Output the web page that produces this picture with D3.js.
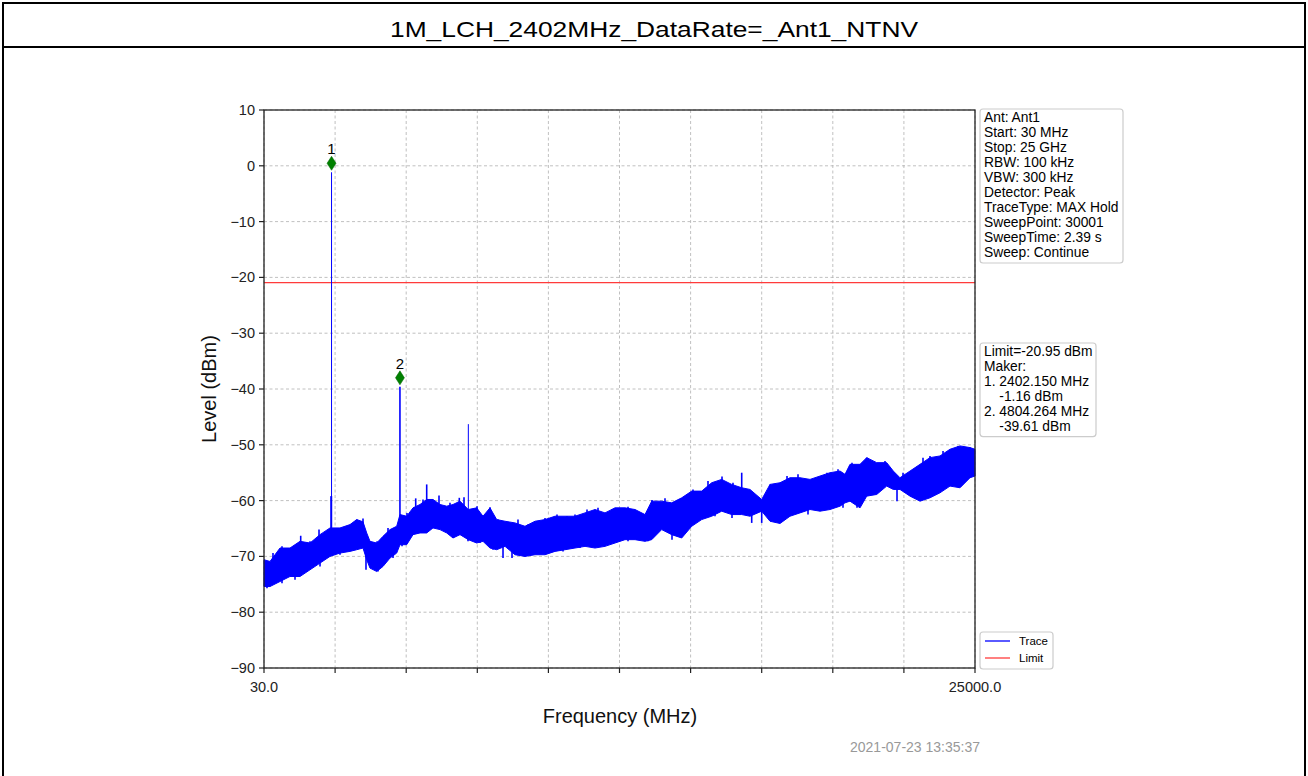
<!DOCTYPE html>
<html><head><meta charset="utf-8">
<script src="https://cdn.jsdelivr.net/npm/d3@7"></script>
<style>
body{margin:0;background:#fff;}
svg{display:block;font-family:"Liberation Sans",Arial,sans-serif;}
</style></head>
<body><svg id="c" width="1308" height="776"></svg>
<script>
const title = "1M_LCH_2402MHz_DataRate=_Ant1_NTNV";
const xDomain = [30, 25000];
const yTicks = [10, 0, -10, -20, -30, -40, -50, -60, -70, -80, -90];
const xTickLabels = ["30.0", "25000.0"];
const limitLevel = -20.95;
// noise band envelope: frequency (MHz), upper and lower level (dBm)
const bandFreq = [30,241,592,943,1294,1646,1997,2348,2699,3050,3286,3507,3637,3753,3988,4209,4455,4690,4806,5042,5263,5509,5744,5965,6211,6447,6668,6914,7205,7500,7721,7967,8202,8494,8845,9196,9548,9899,10250,10601,10952,11304,11655,12006,12357,12708,13060,13411,13646,13997,14348,14700,15051,15402,15753,16104,16455,16807,17098,17509,17801,18152,18503,18854,19206,19557,19908,20259,20435,20610,20962,21197,21548,21899,22131,22366,22718,23069,23420,23771,24122,24474,24825,25000];
const bandTop = [-70.6,-70.9,-68.5,-68.5,-67.3,-67.6,-66.1,-64.9,-64.9,-64.3,-63.4,-63.8,-65.8,-67.3,-67.6,-66.4,-65.2,-64.6,-62.5,-62.8,-61.3,-60.7,-59.8,-59.8,-60.7,-61.0,-60.7,-60.1,-61.6,-61.3,-62.8,-61.3,-63.4,-63.7,-64.0,-64.6,-63.7,-63.4,-62.8,-62.8,-62.8,-62.2,-61.6,-62.2,-61.3,-61.3,-61.6,-62.5,-60.1,-60.1,-60.4,-59.5,-58.3,-58.3,-56.8,-56.2,-57.1,-57.7,-58.0,-59.8,-57.1,-56.8,-55.9,-55.9,-56.2,-55.6,-55.0,-54.7,-55.3,-53.5,-53.5,-52.3,-53.2,-53.2,-54.7,-55.9,-54.7,-53.5,-52.3,-52.0,-50.8,-50.2,-50.5,-50.8];
const bandBottom = [-75.4,-75.4,-74.5,-73.6,-73.6,-72.4,-71.2,-70.0,-69.4,-69.1,-68.8,-68.5,-70.6,-72.1,-72.7,-71.8,-70.3,-69.4,-67.9,-67.9,-66.1,-65.8,-65.8,-64.9,-65.2,-65.8,-66.7,-66.1,-67.0,-67.6,-67.3,-68.5,-68.8,-68.2,-69.7,-70.0,-69.7,-69.7,-69.1,-68.8,-68.5,-68.2,-68.5,-68.2,-67.6,-67.0,-67.0,-67.3,-67.0,-65.2,-66.1,-66.7,-64.6,-63.4,-62.8,-61.9,-62.5,-62.5,-62.8,-61.9,-63.7,-64.1,-62.8,-62.2,-61.6,-61.9,-61.6,-61.0,-60.4,-60.1,-61.3,-59.2,-58.9,-57.4,-58.0,-58.0,-59.2,-60.1,-59.5,-58.6,-57.4,-57.7,-55.9,-55.6,-55.0,-54.4];
// small noise peaks above the band and dips below it
const peakFreq = [346,662,943,1319,1646,1962,2804,3121,3286,3507,4001,4385,5052,5358,5614,5744,6176,6562,6889,7054,7511,7967,8248,8599,8950,9302,9899,10320,10671,10952,11374,11760,12252,12814,13657,14113,14640,15096,15623,16115,16501,16807,17801,18398,18784,19135,19802,20189,20680,21197,21839,22472,23174,23420,23877,24404,24825];
const peakLevel = [-69.4,-68.2,-68.5,-66.3,-67.3,-65.2,-64.9,-64.0,-63.4,-63.2,-67.3,-64.9,-62.2,-59.6,-59.8,-57.1,-59.1,-60.4,-59.5,-59.4,-61.0,-61.2,-63.4,-64.0,-63.4,-64.3,-63.1,-62.5,-62.8,-62.5,-61.6,-61.3,-61.5,-61.1,-59.9,-59.6,-59.8,-58.0,-56.5,-55.7,-56.8,-55.0,-57.1,-55.6,-55.3,-56.2,-55.0,-54.4,-53.2,-52.3,-52.9,-55.0,-52.3,-52.0,-51.1,-50.2,-50.5];
const dipFreq = [135,662,1119,1997,2699,3612,4034,4561,4877,6668,7195,7616,8072,8424,8740,9196,10004,10531,11128,12006,12814,13516,14359,14921,15869,16466,17158,17509,18036,19135,20364,20856,21418,22261,23420,24579];
const dipLevel = [-75.7,-74.8,-74.2,-71.8,-69.7,-72.4,-72.7,-70.3,-68.2,-66.7,-67.3,-67.6,-68.8,-70.3,-70.3,-70.0,-69.4,-69.1,-68.5,-67.9,-67.3,-67.3,-67.0,-64.9,-62.8,-63.1,-64.0,-64.0,-62.2,-62.5,-61.3,-61.3,-58.3,-60.1,-58.0,-56.2];
// narrow emissions on the trace: frequency (MHz), peak level (dBm)
const spikeFreq = [2402.15, 4804.264, 7206, 2390];
const spikeLevel = [-1.16, -39.61, -46.3, -59.2];
const spikeWidth = [1, 1.6, 1, 2];
const markerIds = ["1", "2"];
const markerFreq = [2402.15, 4804.264];
const markerLevel = [-1.16, -39.61];
const infoLines1 = ["Ant: Ant1","Start: 30 MHz","Stop: 25 GHz","RBW: 100 kHz","VBW: 300 kHz","Detector: Peak","TraceType: MAX Hold","SweepPoint: 30001","SweepTime: 2.39 s","Sweep: Continue"];
const infoLines2 = ["Limit=-20.95 dBm","Maker:","1. 2402.150 MHz","    -1.16 dBm","2. 4804.264 MHz","    -39.61 dBm"];
const legendNames = ["Trace", "Limit"];
const legendColors = ["#0000ff", "#ff3b3b"];
const timestamp = "2021-07-23 13:35:37";

const svg = d3.select("#c");
// outer frame
svg.append("rect").attr("x",3).attr("y",3).attr("width",1302).attr("height",790)
  .attr("fill","none").attr("stroke","#000").attr("stroke-width",2);
svg.append("line").attr("x1",3).attr("x2",1305).attr("y1",47).attr("y2",47)
  .attr("stroke","#000").attr("stroke-width",2);
svg.append("text").attr("x",654).attr("y",37).attr("text-anchor","middle")
  .attr("font-size",22).attr("fill","#000")
  .attr("textLength",528).attr("lengthAdjust","spacingAndGlyphs").text(title);

const L=264, R=975, T=110, B=668;
const x = d3.scaleLinear().domain(xDomain).range([L,R]);
const y = d3.scaleLinear().domain([-90,10]).range([B,T]);
const xt = d3.range(11).map(i => xDomain[0] + (xDomain[1]-xDomain[0])*i/10);

const g = svg.append("g");
// grid
g.selectAll(".gy").data(yTicks).join("line").attr("x1",L).attr("x2",R)
  .attr("y1",d=>y(d)).attr("y2",d=>y(d)).attr("stroke","#b0b0b0").attr("stroke-width",0.8).attr("stroke-dasharray","3,2.5");
g.selectAll(".gx").data(xt).join("line").attr("x1",d=>x(d)).attr("x2",d=>x(d))
  .attr("y1",T).attr("y2",B).attr("stroke","#b0b0b0").attr("stroke-width",0.8).attr("stroke-dasharray","3,2.5");

// limit
g.append("line").attr("x1",L).attr("x2",R).attr("y1",y(limitLevel)).attr("y2",y(limitLevel))
  .attr("stroke","#ff3b3b").attr("stroke-width",1.2);

// trace band
const band = bandFreq.map((f,i)=>({f, t:bandTop[i], b:bandBottom[i]}));
g.append("path").datum(band)
  .attr("d", d3.area().x(d=>x(d.f)).y0(d=>y(d.b)).y1(d=>y(d.t)))
  .attr("fill","#0000ff").attr("stroke","#0000ff").attr("stroke-width",1);
const midAt = f => { const i = d3.bisectLeft(bandFreq, f); const k=Math.max(0,Math.min(bandFreq.length-1,i)); return (bandTop[k]+bandBottom[k])/2; };
const noise = peakFreq.map((f,i)=>({f, v:peakLevel[i]})).concat(dipFreq.map((f,i)=>({f, v:dipLevel[i]})));
g.selectAll(".nz").data(noise).join("line")
  .attr("x1",d=>x(d.f)).attr("x2",d=>x(d.f)).attr("y1",d=>y(midAt(d.f))).attr("y2",d=>y(d.v))
  .attr("stroke","#0000ff").attr("stroke-width",1.6);
// spikes
const spikes = spikeFreq.map((f,i)=>({f, v:spikeLevel[i], w:spikeWidth[i]}));
g.selectAll(".sp").data(spikes).join("line")
  .attr("x1",d=>x(d.f)).attr("x2",d=>x(d.f)).attr("y1",d=>y(midAt(d.f))).attr("y2",d=>y(d.v))
  .attr("stroke","#0000ff").attr("stroke-width",d=>d.w);

// markers
const mk = markerIds.map((id,i)=>({id, f:markerFreq[i], v:markerLevel[i]}));
const mg = g.selectAll(".mk").data(mk).join("g").attr("transform",d=>`translate(${x(d.f)},${y(d.v)-9})`);
mg.append("path").attr("d","M0,-7L4.5,0L0,7L-4.5,0Z").attr("fill","#008000").attr("stroke","#006400").attr("stroke-width",0.5);
mg.append("text").attr("y",-9).attr("text-anchor","middle").attr("font-size",15).attr("fill","#000").text(d=>d.id);

// axes frame
g.append("rect").attr("x",L).attr("y",T).attr("width",R-L).attr("height",B-T)
  .attr("fill","none").attr("stroke","#222").attr("stroke-width",1.3);
// y ticks
const ya = g.append("g");
ya.selectAll("line").data(yTicks).join("line").attr("x1",L-5).attr("x2",L)
  .attr("y1",d=>y(d)).attr("y2",d=>y(d)).attr("stroke","#222").attr("stroke-width",1.2);
ya.selectAll("text").data(yTicks).join("text").attr("x",L-9).attr("y",d=>y(d)+5)
  .attr("text-anchor","end").attr("font-size",14.5).attr("fill","#222")
  .text(d=>d<0?"\u2212"+Math.abs(d):String(d));
// x ticks
g.selectAll(".xtk").data(xt).join("line").attr("x1",d=>x(d)).attr("x2",d=>x(d))
  .attr("y1",B).attr("y2",B+5).attr("stroke","#222").attr("stroke-width",1.2);
g.selectAll(".xtl").data([xDomain[0], xDomain[1]]).join("text")
  .attr("x",d=>x(d)).attr("y",B+24).attr("text-anchor","middle").attr("font-size",14.5).attr("fill","#222")
  .text((d,i)=>xTickLabels[i]);

// axis labels
svg.append("text").attr("x",620).attr("y",723).attr("text-anchor","middle").attr("font-size",20).attr("fill","#111").text("Frequency (MHz)");
svg.append("text").attr("transform","translate(216,389) rotate(-90)").attr("text-anchor","middle").attr("font-size",20).attr("fill","#111").text("Level (dBm)");
svg.append("text").attr("x",915).attr("y",752).attr("text-anchor","middle").attr("font-size",14).attr("fill","#999").text(timestamp);

// info boxes
function infoBox(x0,y0,w,lines){
  const lh=15.1;
  svg.append("rect").attr("x",x0).attr("y",y0).attr("width",w).attr("height",lines.length*lh+3)
    .attr("rx",3).attr("fill","#fff").attr("fill-opacity",0.85).attr("stroke","#cccccc").attr("stroke-width",1.2);
  svg.append("g").selectAll("text").data(lines).join("text")
    .attr("x",x0+4).attr("y",(d,i)=>y0+12.5+i*lh).attr("font-size",13.8).attr("fill","#000")
    .attr("xml:space","preserve").style("white-space","pre").text(d=>d);
}
infoBox(980,109,143,infoLines1);
infoBox(980,343,116,infoLines2);

// legend
const lg = svg.append("g");
lg.append("rect").attr("x",980).attr("y",632).attr("width",73).attr("height",37).attr("rx",3)
  .attr("fill","#fff").attr("stroke","#cccccc").attr("stroke-width",1.2);
legendNames.forEach((n,i)=>{
  lg.append("line").attr("x1",985).attr("x2",1010).attr("y1",641+i*17).attr("y2",641+i*17).attr("stroke",legendColors[i]).attr("stroke-width",1.3);
  lg.append("text").attr("x",1019).attr("y",645+i*17).attr("font-size",11.5).attr("fill","#000").text(n);
});
</script></body></html>
